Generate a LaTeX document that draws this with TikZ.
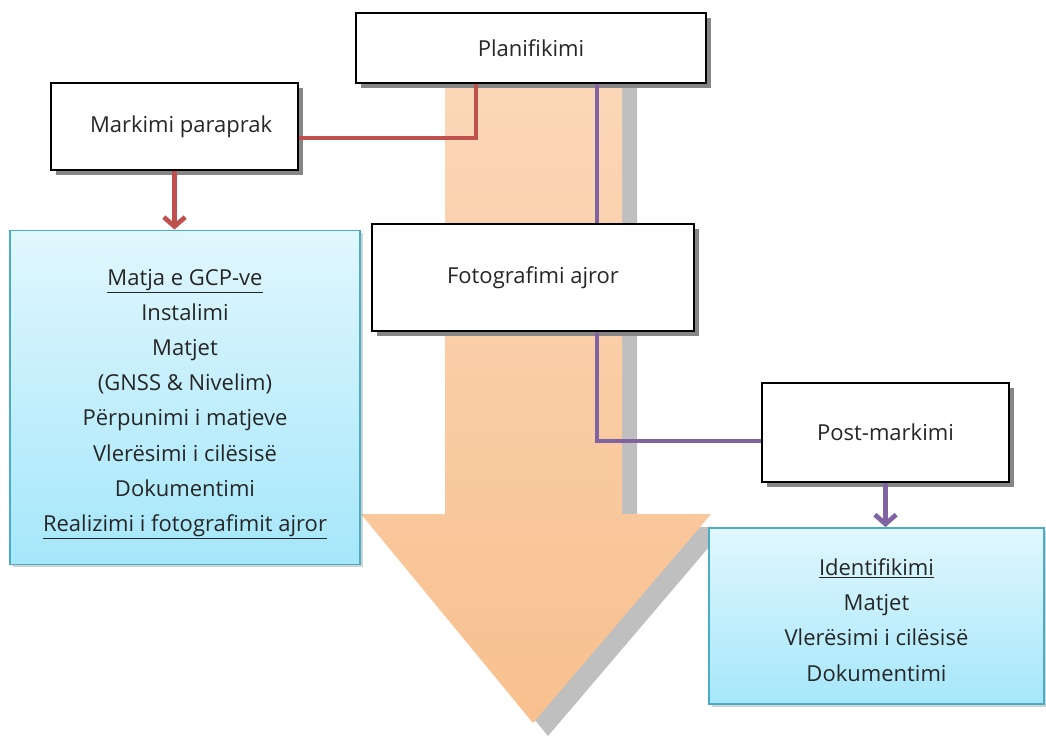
\documentclass[tikz,border=0pt]{standalone}
\usepackage{fontspec}
\setmainfont{Open Sans}
\usepackage{tikz}
\usetikzlibrary{arrows.meta, shadows, positioning}
\definecolor{flowred}{RGB}{192, 80, 77}
\definecolor{flowpurple}{RGB}{128, 100, 162}
\definecolor{arrowtop}{RGB}{251, 216, 186}
\definecolor{arrowbottom}{RGB}{248, 192, 142}
\definecolor{boxtop}{RGB}{225, 247, 253}
\definecolor{boxbottom}{RGB}{165, 231, 251}
\definecolor{boxedge}{RGB}{75, 172, 198}
\definecolor{textgray}{RGB}{38, 38, 38}

\begin{document}
\begin{tikzpicture}[x=0.75pt, y=-0.75pt,
    font=\fontsize{16.5}{26.4}\selectfont, text=textgray,
    stepbox/.style={draw=black, line width=1.4pt, fill=white, align=center,
        general shadow={fill=gray!95, shadow xshift=4pt, shadow yshift=-4pt}},
    listbox/.style={draw=boxedge, line width=1.4pt, top color=boxtop, bottom color=boxbottom,
        drop shadow={opacity=0.35, shadow xshift=2pt, shadow yshift=-2pt}},
    listtext/.style={align=center},
    redline/.style={draw=flowred, line width=3.5pt},
    purpleline/.style={draw=flowpurple, line width=3.5pt},
    tip/.style={-{Straight Barb[length=7pt, width=16pt]}}]
    \useasboundingbox (0,0) rectangle (1046,736);

    % Big arrow with its shadow
    \fill[gray!50] (460,73) -- (637,73) -- (637,527) -- (726,527) -- (548,736) -- (376,527) -- (460,527) -- cycle;
    \shade[top color=arrowtop, bottom color=arrowbottom]
        (445,60) -- (622,60) -- (622,514) -- (711,514) -- (533,723) -- (361,514) -- (445,514) -- cycle;

    % Boxes
    \node[stepbox, minimum width=262.5pt, minimum height=52.5pt] (plan) at (531,48) {Planifikimi};
    \node[stepbox, minimum width=185.25pt, minimum height=65.25pt] (mark) at (174.5,126.5) {\hspace*{10pt}Markimi paraprak};
    \node[stepbox, minimum width=241.5pt, minimum height=80.25pt] (foto) at (533,277.5) {Fotografimi ajror};
    \node[stepbox, minimum width=185.25pt, minimum height=74.25pt] (post) at (885.5,432.5) {Post-markimi};

    \node[listbox, minimum width=262.5pt, minimum height=250.5pt] (gcp) at (185,397.5) {};
    \node[listtext] (gcptext) at ([yshift=-5pt]gcp.center)
        {\underline{Matja e GCP-ve}\\ Instalimi\\ Matjet\\ (GNSS \& Nivelim)\\ Përpunimi i matjeve\\
         Vlerësimi i cilësisë\\ Dokumentimi\\ \underline{Realizimi i fotografimit ajror}};
    \node[listbox, minimum width=251.25pt, minimum height=132pt] (ident) at (876.5,616) {};
    \node[listtext] (identtext) at ([yshift=-3pt]ident.center)
        {\underline{Identifikimi}\\ Matjet\\ Vlerësimi i cilësisë\\ Dokumentimi};

    % Connectors
    \coordinate (redknee) at (476,138);
    \coordinate (purpknee) at (597,441);
    \draw[redline] (mark.east |- redknee) -- (redknee) -- (redknee |- plan.south);
    \draw[redline, tip] (mark.south) -- (mark.south |- gcp.north);
    \draw[purpleline] (plan.south -| purpknee) -- (foto.north -| purpknee);
    \draw[purpleline] (foto.south -| purpknee) -- (purpknee) -- (post.west |- purpknee);
    \draw[purpleline, tip] (post.south) -- (post.south |- ident.north);
\end{tikzpicture}
\end{document}
